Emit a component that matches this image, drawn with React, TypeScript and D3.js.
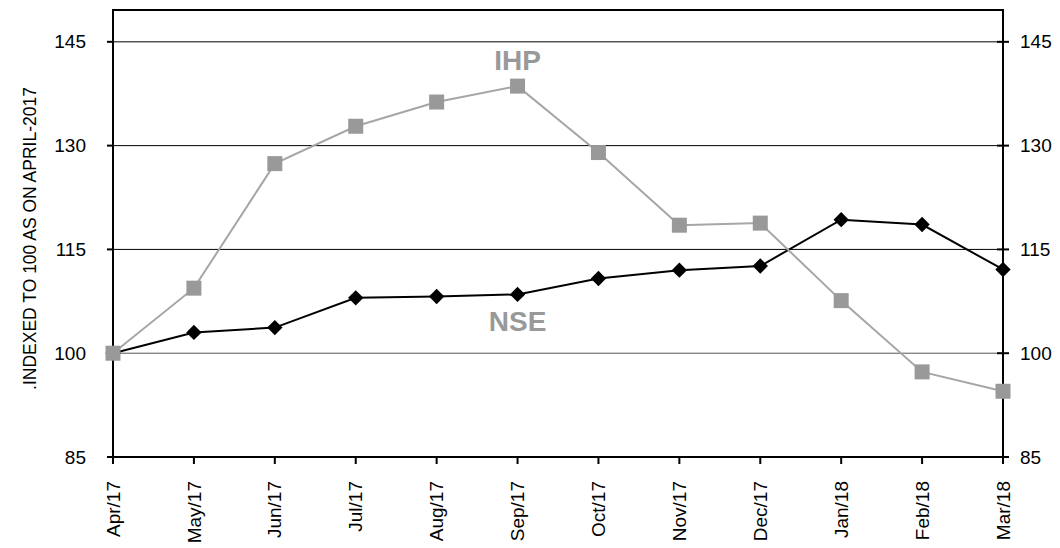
import React from 'react';
import * as d3 from 'd3';

const months = ['Apr/17', 'May/17', 'Jun/17', 'Jul/17', 'Aug/17', 'Sep/17', 'Oct/17', 'Nov/17', 'Dec/17', 'Jan/18', 'Feb/18', 'Mar/18'];
const nseValues = [100, 103.0, 103.7, 108.0, 108.2, 108.5, 110.8, 112.0, 112.6, 119.3, 118.6, 112.1];
const ihpValues = [100, 109.4, 127.4, 132.8, 136.3, 138.6, 129.0, 118.5, 118.8, 107.6, 97.3, 94.5];
const yTicks = [85, 100, 115, 130, 145];

const width = 1060;
const height = 548;
const margin = { top: 10, right: 57, bottom: 91, left: 113 };
const font = 'Liberation Sans, Arial, Helvetica, sans-serif';

const App: React.FC = () => {
    const innerWidth = width - margin.left - margin.right;
    const innerHeight = height - margin.top - margin.bottom;

    const xScale = d3.scalePoint<string>()
        .domain(months)
        .range([0, innerWidth]);

    const yScale = d3.scaleLinear()
        .domain([85, 149.6])
        .range([innerHeight, 0]);

    const line = d3.line<number>()
        .x((d, i) => xScale(months[i]) as number)
        .y(d => yScale(d));

    const diamond = d3.symbol().type(d3.symbolDiamond2).size(150)() as string;

    return (
        <svg width={width} height={height} style={{ position: 'absolute', left: 0, top: 0 }}>
            <g transform={`translate(${margin.left},${margin.top})`}>
                {/* grid lines */}
                {yTicks.filter(t => t > 85).map(t => (
                    <line key={t} x1={0} x2={innerWidth} y1={yScale(t)} y2={yScale(t)}
                        stroke={t === 100 ? '#555' : '#000'} strokeWidth={1} />
                ))}

                {/* frame */}
                <rect x={0} y={0} width={innerWidth} height={innerHeight}
                    fill="none" stroke="#000" strokeWidth={2} />

                {/* left axis ticks and labels */}
                {yTicks.map(t => (
                    <g key={'l' + t} transform={`translate(0,${yScale(t)})`}>
                        <line x1={-6} x2={0} stroke="#000" strokeWidth={2} />
                        <text x={-27} dy="0.35em" textAnchor="end" fontFamily={font} fontSize={19}>{t}</text>
                    </g>
                ))}

                {/* right axis ticks and labels */}
                {yTicks.map(t => (
                    <g key={'r' + t} transform={`translate(${innerWidth},${yScale(t)})`}>
                        <line x1={-6} x2={6} stroke="#000" strokeWidth={2} />
                        <text x={17} dy="0.35em" textAnchor="start" fontFamily={font} fontSize={19}>{t}</text>
                    </g>
                ))}

                {/* bottom ticks and labels */}
                {months.map(m => (
                    <g key={m} transform={`translate(${xScale(m)},${innerHeight})`}>
                        <line y1={0} y2={7} stroke="#000" strokeWidth={2} />
                        <text transform="rotate(-90)" x={-24} dy="0.35em" textAnchor="end"
                            fontFamily={font} fontSize={19}>{m}</text>
                    </g>
                ))}

                {/* NSE series */}
                <path d={line(nseValues) as string} fill="none" stroke="#000" strokeWidth={2} />
                {nseValues.map((v, i) => (
                    <path key={'d' + i} d={diamond}
                        transform={`translate(${xScale(months[i])},${yScale(v)})`} fill="#000" />
                ))}

                {/* IHP series (drawn on top, as in the original) */}
                <path d={line(ihpValues) as string} fill="none" stroke="#a6a6a6" strokeWidth={2} />
                {ihpValues.map((v, i) => (
                    <rect key={'s' + i} x={(xScale(months[i]) as number) - 7.5} y={yScale(v) - 7.5}
                        width={15} height={15} fill="#999999" />
                ))}

                {/* series labels */}
                <text x={xScale('Sep/17') as number} y={yScale(141.0)} textAnchor="middle"
                    fontFamily={font} fontSize={28} fontWeight="bold" fill="#999999">IHP</text>
                <text x={xScale('Sep/17') as number} y={yScale(103.2)} textAnchor="middle"
                    fontFamily={font} fontSize={28} fontWeight="bold" fill="#999999">NSE</text>

                {/* y axis title */}
                <text transform={`translate(-83,${innerHeight / 2 + 5}) rotate(-90)`} dy="0.35em"
                    textAnchor="middle" fontFamily={font} fontSize={17.5}>.INDEXED TO 100 AS ON APRIL-2017</text>
            </g>
        </svg>
    );
};

export default App;
